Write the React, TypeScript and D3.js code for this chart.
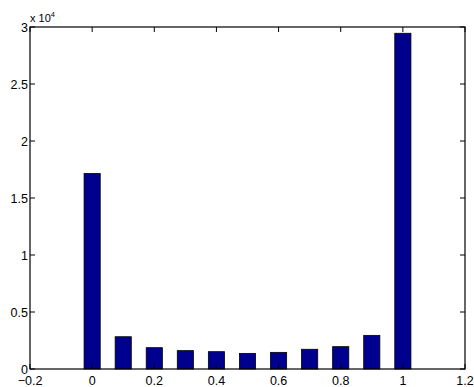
import React, { useEffect, useRef } from 'react';
import * as d3 from 'd3';

// bin centres and counts
const binCenters = [0, 0.1, 0.2, 0.3, 0.4, 0.5, 0.6, 0.7, 0.8, 0.9, 1.0];
const counts = [17150, 2830, 1870, 1610, 1520, 1370, 1460, 1730, 1960, 2950, 29450];
const xTicks = [-0.2, 0, 0.2, 0.4, 0.6, 0.8, 1, 1.2];
const yTicks = [0, 5000, 10000, 15000, 20000, 25000, 30000];

const App = () => {
  const ref = useRef<SVGSVGElement | null>(null);

  useEffect(() => {
    if (!ref.current) return;
    const svg = d3.select(ref.current);
    svg.selectAll('*').remove();

    const left = 30, right = 465, top = 27, bottom = 369;
    const x = d3.scaleLinear().domain([-0.2, 1.2]).range([left, right]);
    const y = d3.scaleLinear().domain([0, 30000]).range([bottom, top]);
    const font = 'Liberation Sans, Arial, sans-serif';
    const fs = 12.5;
    const fmt = (v: number) => (v < 0 ? '\u2212' : '') + String(Math.abs(v));
    const tick = 5;

    // bars
    const bw = x(0.052) - x(0);
    svg.append('g')
      .selectAll('rect')
      .data(binCenters)
      .enter()
      .append('rect')
      .attr('x', (d) => x(d) - bw / 2)
      .attr('y', (d, i) => y(counts[i]))
      .attr('width', bw)
      .attr('height', (d, i) => y(0) - y(counts[i]))
      .attr('fill', '#00008f')
      .attr('stroke', '#000')
      .attr('stroke-width', 0.8);

    // box
    svg.append('rect')
      .attr('x', left).attr('y', top)
      .attr('width', right - left).attr('height', bottom - top)
      .attr('fill', 'none').attr('stroke', '#000').attr('stroke-width', 1.2);

    const g = svg.append('g').attr('stroke', '#000').attr('stroke-width', 1);
    xTicks.forEach((t) => {
      g.append('line').attr('x1', x(t)).attr('x2', x(t)).attr('y1', bottom).attr('y2', bottom - tick);
      g.append('line').attr('x1', x(t)).attr('x2', x(t)).attr('y1', top).attr('y2', top + tick);
      svg.append('text')
        .attr('x', x(t)).attr('y', bottom + 16)
        .attr('text-anchor', 'middle')
        .attr('font-family', font).attr('font-size', fs)
        .text(fmt(+t.toFixed(1)));
    });
    yTicks.forEach((t) => {
      g.append('line').attr('x1', left).attr('x2', left + tick).attr('y1', y(t)).attr('y2', y(t));
      g.append('line').attr('x1', right).attr('x2', right - tick).attr('y1', y(t)).attr('y2', y(t));
      svg.append('text')
        .attr('x', left - 2).attr('y', y(t) + 4.5)
        .attr('text-anchor', 'end')
        .attr('font-family', font).attr('font-size', fs)
        .text(String(+(t / 10000).toFixed(1)));
    });

    // exponent label
    const ex = svg.append('text')
      .attr('x', left).attr('y', top - 5)
      .attr('font-family', font).attr('font-size', 11);
    ex.append('tspan').text('x 10');
    ex.append('tspan').attr('dy', -5).attr('font-size', 7.5).text('4');
  }, []);

  return (
    <svg
      ref={ref}
      width={474}
      height={387}
      style={{ position: 'absolute', top: 0, left: 0, background: '#fff' }}
    />
  );
};

export default App;
